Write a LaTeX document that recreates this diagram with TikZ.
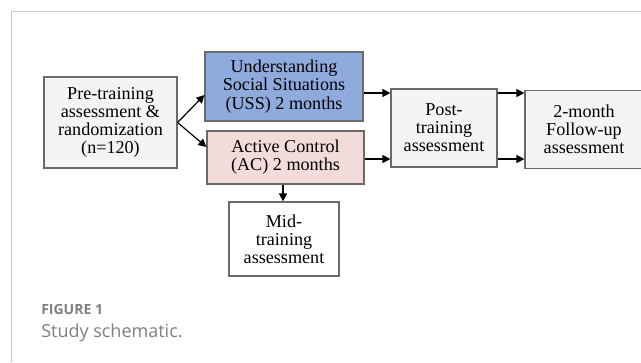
\documentclass[tikz,border=0pt]{standalone}
\usepackage{fontspec}
\setmainfont{Liberation Serif}
\newfontfamily\capfont{Open Sans}
\usetikzlibrary{arrows.meta}
\definecolor{ussblue}{HTML}{8FAADC}
\definecolor{acpink}{HTML}{F2DCDB}
\definecolor{boxgray}{HTML}{F4F4F4}
\definecolor{edgegray}{HTML}{6A6A6A}
\definecolor{framegray}{HTML}{C8C8C8}
\definecolor{capgray}{HTML}{7F7F7F}
\begin{document}
\begin{tikzpicture}[x=0.75pt,y=-0.75pt,
  boxstyle/.style={draw=edgegray,line width=0.9pt,align=center,inner sep=0pt,
    font=\fontsize{13.6}{13.6}\selectfont,text=black},
  conn/.style={-{Triangle[length=6pt,width=6pt]},line width=0.9pt,black}]
\useasboundingbox (0,0) rectangle (641,362);
\draw[framegray,line width=0.9pt] (11.5,362) -- (11.5,11.5) -- (641,11.5);
% boxes
\node[boxstyle,fill=boxgray,minimum width=133*0.75pt,minimum height=91*0.75pt] (pre) at (110.5,122.5)
  {Pre-training\\assessment \&\\randomization\\(n=120)};
\node[boxstyle,fill=ussblue,minimum width=158*0.75pt,minimum height=69*0.75pt] (uss) at (284,86.5)
  {Understanding\\Social Situations\\(USS) 2 months};
\node[boxstyle,fill=acpink,minimum width=157*0.75pt,minimum height=53*0.75pt] (ac) at (285.5,157.5)
  {Active Control\\(AC) 2 months};
\node[boxstyle,fill=white,minimum width=110*0.75pt,minimum height=74*0.75pt] (mid) at (284,239)
  {Mid-\\training\\assessment};
\node[boxstyle,fill=boxgray,minimum width=106*0.75pt,minimum height=78*0.75pt] (post) at (444,128)
  {Post-\\training\\assessment};
\node[boxstyle,fill=boxgray,minimum width=118*0.75pt,minimum height=78*0.75pt] (fu) at (584,129.5)
  {2-month\\Follow-up\\assessment};
% connectors
\draw[conn] (pre.east) -- (uss.west |- 0,95);
\draw[conn] (pre.east) -- (ac.west |- 0,147);
\draw[conn] (ac.south -| 283,0) -- (mid.north -| 283,0);
\draw[conn] (uss.east |- 0,93) -- (post.west |- 0,93);
\draw[conn] (ac.east |- 0,159) -- (post.west |- 0,159);
\draw[conn] (post.east |- 0,93) -- (fu.west |- 0,93);
\draw[conn] (post.east |- 0,159) -- (fu.west |- 0,159);
% caption
\node[anchor=base west,inner sep=0pt,text=capgray,font=\capfont\bfseries\fontsize{10.5}{12}\selectfont] (figlab) at (41,314) {FIGURE 1};
\node[anchor=base west,inner sep=0pt,text=capgray,font=\capfont\fontsize{13.5}{15}\selectfont] (figcap) at (41,337) {Study schematic.};
\end{tikzpicture}
\end{document}
